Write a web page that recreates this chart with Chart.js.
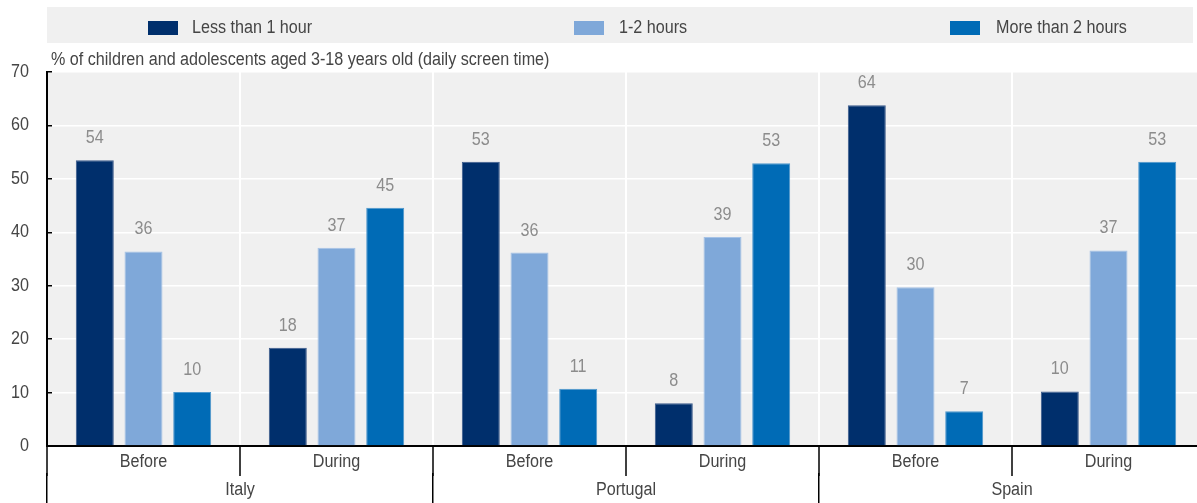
<!DOCTYPE html>
<html><head><meta charset="utf-8">
<script src="https://cdn.jsdelivr.net/npm/chart.js@4/dist/chart.umd.min.js"></script>
<style>
html,body{margin:0;padding:0;background:#fff;overflow:hidden;width:1197px;height:503px}
#wrap{width:1205px;height:503px}
</style></head>
<body><div id="wrap"><canvas id="c" width="1205" height="503"></canvas></div>
<script>
const countries = ['Italy', 'Portugal', 'Spain'];
const periods = ['Before', 'During', 'Before', 'During', 'Before', 'During'];
const seriesNames = ['Less than 1 hour', '1-2 hours', 'More than 2 hours'];
const lessThan1Hour = [53.5, 18.4, 53.2, 8.0, 63.8, 10.2];
const oneToTwoHours = [36.4, 37.1, 36.2, 39.1, 29.7, 36.6];
const moreThan2Hours = [10.1, 44.6, 10.7, 52.9, 6.5, 53.2];
const yTickValues = [0, 10, 20, 30, 40, 50, 60, 70];
const yAxisTitle = '% of children and adolescents aged 3-18 years old (daily screen time)';

const FONT = '"Liberation Sans", Arial, sans-serif';
const FSIZE = 18;
const SX = 0.896;
const TEXT = '#454545';
const colors = ['#002F6C', '#7FA8D9', '#006BB6'];
const borderColors = ['#3a5a8a', '#a5c2e6', '#4d97cc'];
const legendBoxX = [148, 574, 950];
const legendTextX = [192, 619, 996];

function narrowText(ctx, text, x, y, align, color) {
  ctx.save();
  ctx.font = FSIZE + 'px ' + FONT;
  ctx.fillStyle = color;
  ctx.textAlign = align;
  ctx.textBaseline = 'middle';
  ctx.translate(x, y);
  ctx.scale(SX, 1);
  ctx.fillText(text, 0, 0);
  ctx.restore();
}

const bgPlugin = {
  id: 'bg',
  beforeDraw(chart) {
    const {ctx, chartArea: a} = chart;
    ctx.save();
    ctx.fillStyle = '#f0f0f0';
    ctx.fillRect(a.left, a.top, a.right - a.left, a.bottom - a.top);
    ctx.fillRect(47, 7, 1146, 36);
    chart.data.datasets.forEach((ds, i) => {
      ctx.fillStyle = ds.backgroundColor;
      ctx.fillRect(legendBoxX[i], 21, 30, 14);
      narrowText(ctx, ds.label, legendTextX[i], 28, 'left', TEXT);
    });
    narrowText(ctx, yAxisTitle, a.left + 4, 60, 'left', TEXT);
    ctx.restore();
  }
};

const textPlugin = {
  id: 'texts',
  afterDraw(chart) {
    const {ctx} = chart;
    const y = chart.scales.y, x = chart.scales.x, x2 = chart.scales.x2;
    y.ticks.forEach(t => narrowText(ctx, String(t.value), y.right - 18, y.getPixelForValue(t.value), 'right', TEXT));
    x.ticks.forEach((t, i) => narrowText(ctx, chart.data.labels[i], x.getPixelForTick(i), 462, 'center', TEXT));
    x2.ticks.forEach((t, i) => narrowText(ctx, countries[i], x2.getPixelForTick(i), 490, 'center', TEXT));
  },
  afterDatasetsDraw(chart) {
    const {ctx} = chart;
    chart.data.datasets.forEach((ds, i) => {
      chart.getDatasetMeta(i).data.forEach((el, j) => {
        narrowText(ctx, String(Math.round(ds.data[j])), el.x, el.y - 22, 'center', '#8c8c8c');
      });
    });
  }
};

const seriesData = [lessThan1Hour, oneToTwoHours, moreThan2Hours];

new Chart(document.getElementById('c'), {
  type: 'bar',
  data: {
    labels: periods,
    datasets: seriesNames.map((n, i) => ({
      label: n,
      data: seriesData[i],
      backgroundColor: colors[i],
      borderColor: borderColors[i],
      borderWidth: 1,
      categoryPercentage: 0.757,
      barPercentage: 0.78
    }))
  },
  options: {
    responsive: false,
    animation: false,
    layout: {padding: {top: 72, right: 0, left: 0, bottom: 0}},
    plugins: {legend: {display: false}, tooltip: {enabled: false}},
    scales: {
      y: {
        min: 0, max: 70,
        afterFit(s) { s.width = 47; },
        afterBuildTicks(s) { s.ticks = yTickValues.map(v => ({value: v})); },
        grid: {color: '#ffffff', lineWidth: 1.5, tickColor: '#000', tickLength: -5, tickWidth: 1.5},
        border: {color: '#000', width: 2},
        ticks: {display: false}
      },
      x: {
        position: 'bottom',
        afterFit(s) { s.height = 27; },
        grid: {offset: true, color: '#ffffff', lineWidth: 2, tickColor: '#000', tickLength: 30, tickWidth: 1.5},
        border: {color: '#000', width: 2},
        ticks: {display: false}
      },
      x2: {
        type: 'category',
        position: 'bottom',
        labels: countries,
        offset: true,
        afterFit(s) { s.height = 30; },
        grid: {offset: true, drawOnChartArea: false, color: '#000', tickColor: '#000', tickLength: 30, tickWidth: 1.5, lineWidth: 1.5},
        border: {display: false},
        ticks: {display: false}
      }
    }
  },
  plugins: [bgPlugin, textPlugin]
});
</script>
</body></html>
